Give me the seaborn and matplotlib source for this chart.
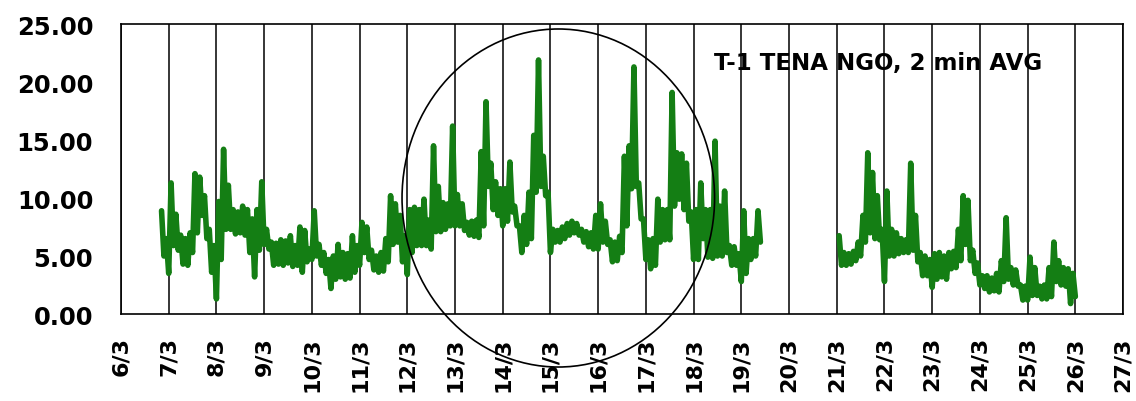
import numpy as np
import pandas as pd
import matplotlib
matplotlib.use("Agg")
import matplotlib.pyplot as plt
from matplotlib.patches import Ellipse
import seaborn as sns

# Axis ticks and labels (day of March)
day_ticks = list(range(6, 28))
day_labels = [f"{d}/3" for d in day_ticks]
y_ticks = [0, 5, 10, 15, 20, 25]

# 2-min averages, recorded as alternating peak / trough readings,
# one pair every 0.1 day (trough taken half a step after the peak)
step = 0.1
run1_start = 6.85
run1_high = [8.9, 6.5, 11.3, 8.6, 6.8, 6.5, 7.0, 12.1, 11.8, 10.2,
             7.3, 5.9, 9.7, 14.2, 11.1, 9.0, 8.8, 9.3, 9.0, 8.2,
             9.0, 11.4, 7.3, 6.2, 6.1, 6.4, 6.3, 6.75, 5.9, 7.5,
             7.2, 5.6, 8.9, 6.0, 5.3, 4.7, 5.0, 6.0, 5.3, 5.2,
             6.75, 5.9, 7.9, 7.5, 5.5, 5.0, 5.3, 6.5, 10.2, 9.5,
             8.5, 6.75, 9.0, 9.2, 9.0, 9.9, 8.1, 14.5, 11.0, 9.6,
             9.5, 16.2, 10.3, 9.5, 7.9, 8.0, 8.1, 14.0, 18.3, 13.0,
             11.4, 10.8, 10.8, 13.1, 9.3, 7.6, 8.5, 10.5, 15.4, 21.9,
             13.6, 10.5, 7.3, 7.2, 7.5, 7.8, 8.0, 7.8, 7.3, 7.1,
             7.0, 8.5, 9.5, 8.0, 6.4, 6.2, 6.7, 13.6, 14.5, 21.3,
             11.3, 8.2, 6.4, 6.5, 9.9, 9.0, 9.0, 19.1, 13.9, 13.8,
             13.0, 8.8, 9.0, 11.3, 9.0, 9.0, 14.9, 9.3, 10.6, 5.9,
             5.8, 5.2, 8.9, 6.5, 6.5, 8.9]
run1_low = [5.0, 3.5, 5.9, 5.5, 4.3, 4.2, 5.3, 7.0, 8.5, 6.5,
            3.6, 1.3, 4.7, 7.3, 7.3, 6.9, 7.0, 6.8, 5.3, 3.2,
            5.5, 6.0, 5.6, 4.2, 4.3, 4.2, 4.4, 4.1, 4.2, 3.6,
            4.5, 4.7, 5.0, 4.2, 3.5, 2.2, 3.0, 3.2, 3.0, 3.1,
            3.6, 4.2, 5.3, 4.7, 3.8, 3.6, 3.7, 4.5, 6.0, 6.2,
            4.5, 3.4, 5.3, 5.9, 5.9, 5.9, 5.6, 7.1, 7.1, 7.3,
            7.6, 7.6, 7.6, 7.2, 6.8, 6.7, 6.6, 7.6, 11.0, 9.0,
            8.5, 7.6, 8.0, 8.8, 7.6, 5.3, 6.0, 6.5, 10.5, 11.0,
            10.2, 5.3, 6.2, 6.2, 6.5, 6.8, 7.0, 6.8, 6.2, 5.8,
            5.6, 5.6, 6.2, 6.0, 4.5, 4.6, 5.3, 7.6, 10.8, 11.0,
            8.2, 4.7, 3.9, 4.2, 6.2, 6.4, 6.4, 9.3, 9.9, 9.0,
            8.0, 4.7, 4.7, 6.5, 4.9, 4.8, 5.0, 5.0, 5.3, 4.2,
            4.2, 2.8, 3.5, 4.7, 5.0, 6.2]

run2_start = 21.05
run2_high = [6.75, 5.3, 5.2, 5.4, 6.2, 8.5, 13.9, 12.2, 10.2, 7.3,
             10.6, 7.3, 7.0, 6.5, 6.4, 13.0, 8.5, 5.3, 5.0, 4.7,
             5.2, 5.3, 5.0, 5.3, 5.4, 7.3, 10.2, 9.8, 5.5, 4.4,
             3.3, 3.3, 3.1, 3.5, 4.6, 8.3, 4.0, 3.8, 2.5, 2.4,
             4.9, 4.0, 2.4, 2.5, 4.0, 6.2, 4.6, 4.0, 3.9, 3.5]
run2_low = [4.2, 4.2, 4.3, 4.6, 5.0, 6.2, 7.0, 6.5, 6.4, 2.8,
            5.0, 5.0, 5.2, 5.3, 5.3, 5.5, 4.5, 3.3, 3.3, 2.3,
            3.0, 3.2, 3.0, 3.9, 4.0, 4.6, 6.0, 4.6, 3.5, 2.5,
            2.2, 1.9, 2.0, 1.9, 2.8, 3.0, 2.5, 2.4, 1.2, 1.2,
            1.6, 1.6, 1.3, 1.3, 1.5, 2.8, 2.5, 2.4, 0.9, 1.5]


def build_run(start, highs, lows, run_id):
    rows = []
    for i, (hi, lo) in enumerate(zip(highs, lows)):
        t = start + step * i
        rows.append((t, hi, run_id))
        rows.append((t + step / 2, lo, run_id))
    return rows


records = build_run(run1_start, run1_high, run1_low, 1) + \
          build_run(run2_start, run2_high, run2_low, 2)
df = pd.DataFrame(records, columns=["day", "value", "run"])

sns.set_style("white")
plt.rcParams["font.family"] = ["DejaVu Sans"]
plt.rcParams["text.color"] = "black"

fig = plt.figure(figsize=(11.36, 4.02), dpi=100)
ax = fig.add_axes([0.1065, 0.2164, 0.8821, 0.7214])

sns.lineplot(data=df, x="day", y="value", units="run", estimator=None,
             sort=False, color="#147e14", linewidth=4.0, ax=ax, legend=False)

ax.set_xlim(6, 27)
ax.set_ylim(0, 25)
ax.set_xlabel("")
ax.set_ylabel("")

ax.set_xticks(day_ticks)
ax.set_xticklabels(day_labels, rotation=90, fontsize=16, fontweight="bold",
                   family="DejaVu Sans", color="black")
ax.set_yticks(y_ticks)
ax.set_yticklabels([f"{v:.2f}" for v in y_ticks], fontsize=17.5,
                   fontweight="bold", family="DejaVu Sans", color="black")

ax.tick_params(axis="x", direction="out", length=7, width=1.1, pad=9,
               colors="black")
ax.tick_params(axis="y", direction="out", length=7, width=1.1, pad=13,
               colors="black")

ax.grid(axis="x", color="black", linewidth=1.1)
ax.grid(axis="y", visible=False)
ax.set_axisbelow(True)
for side in ["left", "right", "top", "bottom"]:
    ax.spines[side].set_visible(True)
    ax.spines[side].set_color("black")
    ax.spines[side].set_linewidth(1.2)

ax.text(18.42, 21.7, "T-1 TENA NGO, 2 min AVG", fontsize=16.5,
        fontweight="bold", family="DejaVu Sans", color="black",
        va="center", ha="left")

ax.add_patch(Ellipse((15.165, 10.0), 6.55, 29.14, fill=False,
                     edgecolor="black", linewidth=1.2, clip_on=False,
                     zorder=5))

fig.savefig("out.png", dpi=100)
